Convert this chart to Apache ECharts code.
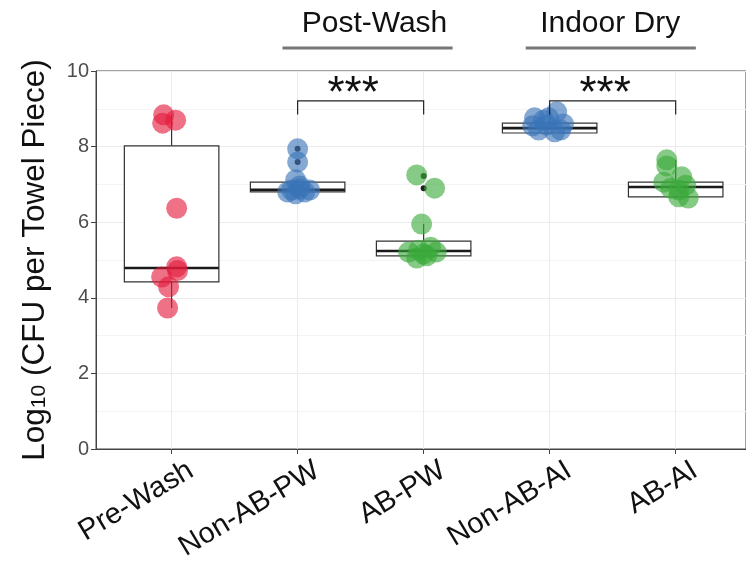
<!DOCTYPE html>
<html>
<head>
<meta charset="utf-8">
<script src="https://cdn.jsdelivr.net/npm/echarts@6/dist/echarts.min.js"></script>
<style>
html,body{margin:0;padding:0;background:#fff;}
#main{width:746px;height:566px;}
</style>
</head>
<body>
<div id="main"></div>
<script>
// ---- data ----
const categories = ['Pre-Wash', 'Non-AB-PW', 'AB-PW', 'Non-AB-AI', 'AB-AI'];
const yTicks = [0, 2, 4, 6, 8, 10];
// box stats: [lower whisker, Q1, median, Q3, upper whisker]
const preWashBox  = [3.73, 4.42, 4.79, 8.02, 8.84];
const nonAbPwBox  = [6.76, 6.80, 6.86, 7.06, 7.12];
const abPwBox     = [5.02, 5.11, 5.24, 5.50, 5.95];
const nonAbAiBox  = [8.38, 8.36, 8.49, 8.62, 8.90];
const abAiBox     = [6.62, 6.67, 6.93, 7.06, 7.65];
// jittered observations: [x jitter (category units), value]
const preWashPts = [[-0.063, 8.84], [0.032, 8.70], [-0.071, 8.62], [0.04, 6.37], [0.04, 4.82],
                    [0.047, 4.72], [-0.079, 4.55], [-0.024, 4.29], [-0.032, 3.73]];
const nonAbPwPts = [[0, 7.94], [0, 7.59], [-0.016, 7.12], [0.016, 6.96], [-0.048, 6.85], [0.056, 6.80],
                    [-0.016, 6.75], [0.095, 6.85], [-0.079, 6.80], [0.016, 6.88]];
const abPwPts    = [[-0.055, 7.25], [0.087, 6.90], [-0.016, 5.95], [-0.04, 5.26], [0.055, 5.34],
                    [-0.12, 5.21], [0.024, 5.11], [-0.055, 5.05], [0.10, 5.21], [0, 5.16]];
const nonAbAiPts = [[-0.12, 8.76], [0.056, 8.92], [0.11, 8.60], [-0.024, 8.57], [-0.087, 8.44],
                    [0.04, 8.39], [-0.048, 8.70], [0.087, 8.44], [-0.008, 8.76], [-0.135, 8.55]];
const abAiPts    = [[-0.071, 7.65], [-0.071, 7.49], [0.048, 7.20], [-0.095, 7.06], [0.08, 6.98],
                    [0.024, 6.85], [0.024, 6.67], [0.10, 6.64], [-0.04, 6.90]];
// boxplot outliers: [category position, value]
const outliers = [[2, 7.94], [2, 7.59], [3, 7.22], [3, 6.90]];
// significance comparisons: [from category, to category]
const comparisons = [[2, 3], [4, 5]];
const sigLabel = '***';
// group header labels: [text, line from, line to, text centre] (category units)
const groupHeaders = [['Post-Wash', 1.88, 3.23, 2.61], ['Indoor Dry', 3.81, 5.16, 4.48]];

const colors = ['#e31a3c', '#3a75b8', '#3aa93a'];
const groupColors = [colors[0], colors[1], colors[2], colors[1], colors[2]];
const boxes = [preWashBox, nonAbPwBox, abPwBox, nonAbAiBox, abAiBox];
const points = [preWashPts, nonAbPwPts, abPwPts, nonAbAiPts, abAiPts];

const FONT = 'Liberation Sans, Arial, Helvetica, sans-serif';
const chart = echarts.init(document.getElementById('main'));

const boxData = boxes.map((b, i) => [i + 1].concat(b));
const BOX_HALF = 0.375;

function renderBox(params, api) {
  const x = api.value(0);
  const lo = api.value(1), q1 = api.value(2), med = api.value(3), q3 = api.value(4), hi = api.value(5);
  const pTL = api.coord([x - BOX_HALF, q3]);
  const pBR = api.coord([x + BOX_HALF, q1]);
  const pMedL = api.coord([x - BOX_HALF, med]);
  const pMedR = api.coord([x + BOX_HALF, med]);
  const pHi = api.coord([x, hi]);
  const pLo = api.coord([x, lo]);
  const cx = api.coord([x, q3])[0];
  const stroke = {stroke: '#333', lineWidth: 1.2, fill: null};
  return {
    type: 'group',
    children: [
      {type: 'line', shape: {x1: cx, y1: pHi[1], x2: cx, y2: pTL[1]}, style: stroke},
      {type: 'line', shape: {x1: cx, y1: pBR[1], x2: cx, y2: pLo[1]}, style: stroke},
      {type: 'rect', shape: {x: pTL[0], y: pTL[1], width: pBR[0] - pTL[0], height: pBR[1] - pTL[1]},
       style: {fill: '#fff', stroke: '#333', lineWidth: 1.2}},
      {type: 'line', shape: {x1: pMedL[0], y1: pMedL[1], x2: pMedR[0], y2: pMedR[1]},
       style: {stroke: '#1a1a1a', lineWidth: 2.6}}
    ]
  };
}

function renderBracket(params, api) {
  const a = api.value(0), b = api.value(1);
  const p1 = api.coord([a, 8.85]);
  const p2 = api.coord([a, 9.21]);
  const p3 = api.coord([b, 9.21]);
  const p4 = api.coord([b, 8.85]);
  const pt = api.coord([(a + b) / 2 - 0.06, 9.38]);
  return {
    type: 'group',
    children: [
      {type: 'polyline', shape: {points: [p1, p2, p3, p4]}, style: {stroke: '#222', lineWidth: 1.2, fill: null}},
      {type: 'text', x: pt[0], y: pt[1], style: {text: sigLabel, fontSize: 44, fontFamily: FONT, fill: '#111',
        align: 'center', verticalAlign: 'middle'}}
    ]
  };
}

function renderHeader(params, api) {
  const idx = params.dataIndex;
  const a = api.value(1), b = api.value(2), c = api.value(3);
  const pl = api.coord([a, 10.61]);
  const pr = api.coord([b, 10.61]);
  const pt = api.coord([c, 10.86]);
  return {
    type: 'group',
    children: [
      {type: 'line', shape: {x1: pl[0], y1: pl[1], x2: pr[0], y2: pr[1]}, style: {stroke: '#777', lineWidth: 3}},
      {type: 'text', x: pt[0], y: pt[1], style: {text: groupHeaders[idx][0], fontSize: 30, fontFamily: FONT,
        fill: '#111', align: 'center', verticalAlign: 'bottom'}}
    ]
  };
}

const scatterSeries = points.map((pts, i) => ({
  type: 'scatter',
  data: pts.map(p => [i + 1 + p[0], p[1]]),
  symbolSize: 21,
  itemStyle: {color: groupColors[i], opacity: 0.62},
  z: 5,
  silent: true
}));

chart.setOption({
  animation: false,
  backgroundColor: '#fff',
  grid: {left: 96, right: -2, top: 71, bottom: 117, show: true, borderColor: '#444', borderWidth: 1, backgroundColor: 'transparent'},
  xAxis: {
    type: 'value', min: 0.4, max: 5.558,
    axisLine: {show: true, lineStyle: {color: '#444', width: 1}},
    axisTick: {show: true, customValues: [1, 2, 3, 4, 5], length: 5, lineStyle: {color: '#444'}},
    axisLabel: {
      customValues: [1, 2, 3, 4, 5],
      formatter: v => categories[Math.round(v) - 1] || '',
      rotate: 31, fontSize: 29, color: '#111', fontFamily: FONT, margin: 14,
      verticalAlign: 'top', padding: [0, -14, 0, 0]
    },
    splitLine: {show: true, lineStyle: {color: '#ebebeb', width: 1}}
  },
  yAxis: {
    type: 'value', min: 0, max: 10, interval: 2,
    axisLine: {show: true, lineStyle: {color: '#444', width: 1}},
    axisTick: {show: true, length: 5, lineStyle: {color: '#444'}},
    axisLabel: {fontSize: 20, color: '#4d4d4d', fontFamily: FONT, margin: 7},
    splitLine: {show: true, lineStyle: {color: '#ebebeb', width: 1}},
    minorTick: {show: false, splitNumber: 2},
    minorSplitLine: {show: true, lineStyle: {color: '#f4f4f4', width: 1}},
    name: '{n|Log}{s|10}{n| (CFU per Towel Piece)}',
    nameLocation: 'middle', nameGap: 46,
    nameTextStyle: {
      color: '#111', fontFamily: FONT,
      rich: {
        n: {fontSize: 31.5, lineHeight: 31, verticalAlign: 'top', fontFamily: FONT, color: '#111'},
        s: {fontSize: 21, lineHeight: 21, padding: [16, 0, 0, 0], verticalAlign: 'bottom', fontFamily: FONT, color: '#111'}
      }
    }
  },
  series: [
    {type: 'custom', renderItem: renderBox, data: boxData, z: 2, silent: true,
     encode: {x: 0, y: [1, 2, 3, 4, 5]}},
    {type: 'scatter', data: outliers, symbolSize: 6, itemStyle: {color: '#222', opacity: 1}, z: 3, silent: true},
    ...scatterSeries,
    {type: 'custom', renderItem: renderBracket, data: comparisons, z: 6, silent: true, clip: false,
     encode: {x: [0, 1]}},
    {type: 'custom', renderItem: renderHeader, data: groupHeaders.map((h, i) => [i, h[1], h[2], h[3]]), z: 6, silent: true, clip: false,
     encode: {x: [1, 2]}}
  ]
});
</script>
</body>
</html>
